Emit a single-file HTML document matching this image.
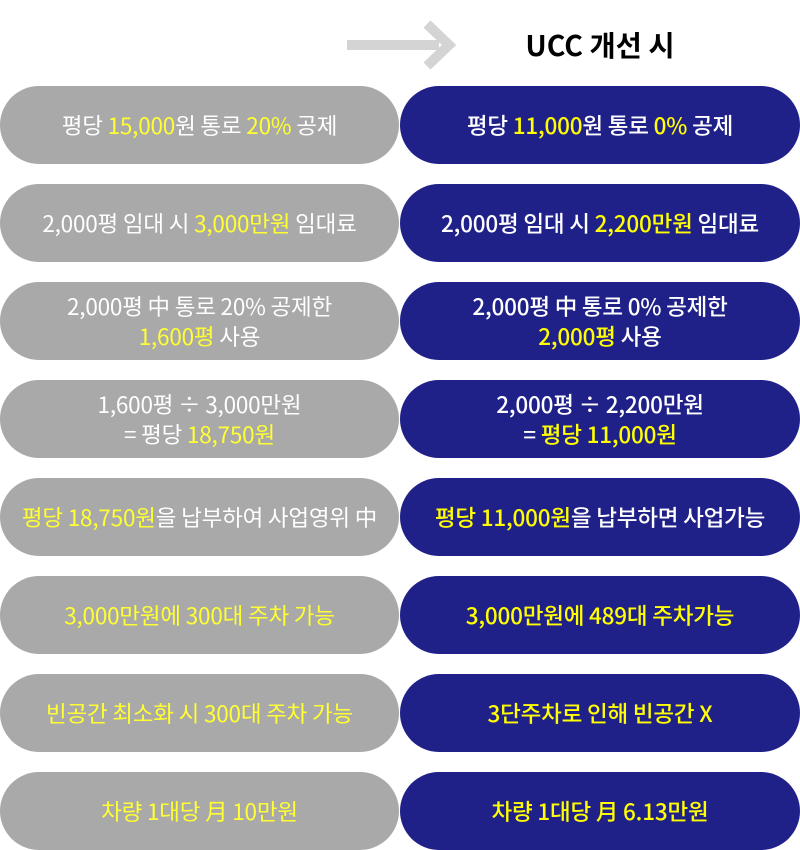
<!DOCTYPE html>
<html><head><meta charset="utf-8"><style>
body{margin:0;width:800px;height:850px;background:#fff;position:relative;overflow:hidden;font-family:"Noto Sans CJK KR","Liberation Sans",sans-serif}
.p{position:absolute;height:78px;border-radius:39px;display:flex;align-items:center;justify-content:center;text-align:center;font-size:22.5px;line-height:30px;color:#fff;letter-spacing:-0.2px}
.l{left:0;width:399px;background:#a9a9a9;font-weight:400}
.r{left:400px;width:400px;background:#1f2189;font-weight:500}
.l .y{color:#ffff33}.r .y{color:#ffff00}
.t{position:absolute;left:480px;width:240px;top:25px;text-align:center;font-size:28.5px;font-weight:bold;color:#000;line-height:40px}
</style></head><body>
<svg style="position:absolute;left:0;top:0" width="800" height="90">
<rect x="347" y="40" width="92" height="10" fill="#d4d4d4"/>
<polyline points="427,24 449,45 427,66" fill="none" stroke="#d4d4d4" stroke-width="10"/>
</svg>
<div class="t">UCC 개선 시</div>

<div class="p l" style="top:86px"><div>평당 <span class="y">15,000</span>원 통로 <span class="y">20%</span> 공제</div></div>
<div class="p r" style="top:86px"><div>평당 <span class="y">11,000</span>원 통로 <span class="y">0%</span> 공제</div></div>

<div class="p l" style="top:184px"><div>2,000평 임대 시 <span class="y">3,000만원</span> 임대료</div></div>
<div class="p r" style="top:184px"><div>2,000평 임대 시 <span class="y">2,200만원</span> 임대료</div></div>

<div class="p l" style="top:282px"><div>2,000평 中 통로 20% 공제한<br><span class="y">1,600평</span> 사용</div></div>
<div class="p r" style="top:282px"><div>2,000평 中 통로 0% 공제한<br><span class="y">2,000평</span> 사용</div></div>

<div class="p l" style="top:380px"><div>1,600평 ÷ 3,000만원<br>= 평당 <span class="y">18,750원</span></div></div>
<div class="p r" style="top:380px"><div>2,000평 ÷ 2,200만원<br>= <span class="y">평당 11,000원</span></div></div>

<div class="p l" style="top:478px"><div><span class="y">평당 18,750원</span>을 납부하여 사업영위 中</div></div>
<div class="p r" style="top:478px"><div><span class="y">평당 11,000원</span>을 납부하면 사업가능</div></div>

<div class="p l" style="top:576px"><div class="y">3,000만원에 300대 주차 가능</div></div>
<div class="p r" style="top:576px"><div class="y">3,000만원에 489대 주차가능</div></div>

<div class="p l" style="top:674px"><div class="y">빈공간 최소화 시 300대 주차 가능</div></div>
<div class="p r" style="top:674px"><div class="y">3단주차로 인해 빈공간 X</div></div>

<div class="p l" style="top:772px"><div class="y">차량 1대당 月 10만원</div></div>
<div class="p r" style="top:772px"><div class="y">차량 1대당 月 6.13만원</div></div>
</body></html>
